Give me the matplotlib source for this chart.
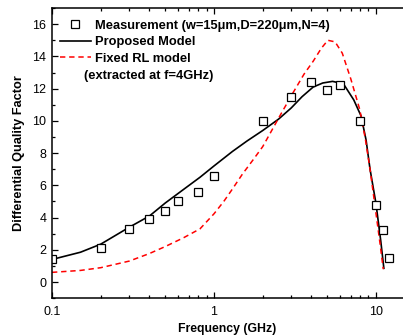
import numpy as np
import matplotlib
matplotlib.use('Agg')
import matplotlib.pyplot as plt
from matplotlib.ticker import MultipleLocator, FixedLocator, NullFormatter

plt.rcParams['font.family'] = ['Liberation Sans', 'DejaVu Sans']

# measured differential Q
meas_f = [0.1, 0.2, 0.3, 0.4, 0.5, 0.6, 0.8, 1.0, 2.0, 3.0, 4.0, 5.0, 6.0, 8.0, 10.0, 11.0, 12.0]
meas_q = [1.4, 2.1, 3.3, 3.9, 4.4, 5.0, 5.6, 6.6, 10.0, 11.5, 12.4, 11.9, 12.2, 10.0, 4.8, 3.2, 1.5]

# proposed model
model_f = [0.1, 0.15, 0.2, 0.3, 0.4, 0.5, 0.65, 0.82, 1.0, 1.3, 1.6, 2.0, 2.5, 3.0, 3.5, 4.1, 4.7, 5.4, 6.3, 7.3, 8.1, 8.7, 9.2, 10.0, 10.7, 11.2]
model_q = [1.4, 1.85, 2.35, 3.4, 4.1, 4.9, 5.75, 6.5, 7.2, 8.1, 8.75, 9.4, 10.1, 10.8, 11.5, 12.1, 12.35, 12.45, 12.3, 11.3, 10.3, 8.8, 7.0, 4.9, 2.6, 0.85]

# fixed RL model (extracted at 4 GHz)
rl_f = [0.1, 0.15, 0.2, 0.3, 0.4, 0.5, 0.65, 0.82, 1.0, 1.15, 1.3, 1.5, 1.75, 2.0, 2.55, 3.06, 3.6, 4.1, 4.6, 5.05, 5.6, 6.2, 7.0, 7.95, 8.6, 9.2, 10.0, 10.6, 11.1]
rl_q = [0.6, 0.72, 0.89, 1.3, 1.77, 2.2, 2.75, 3.3, 4.23, 5.0, 5.77, 6.7, 7.6, 8.4, 10.3, 11.7, 12.9, 13.7, 14.5, 15.0, 14.9, 14.2, 12.6, 10.7, 8.9, 7.0, 4.3, 2.4, 0.8]

fig = plt.figure(figsize=(4.03, 3.35), dpi=100)
ax = fig.add_axes([0.129, 0.110, 0.871, 0.866])

ax.plot(model_f, model_q, color='black', lw=1.2, label='Proposed Model')
ax.plot(rl_f, rl_q, color='red', lw=1.1, ls=(0, (3.5, 2.5)), label='Fixed RL model')
ax.plot(meas_f, meas_q, ls='none', marker='s', ms=5.5, mfc='white', mec='black', mew=0.9,
        label='Measurement (w=15\u03bcm,D=220\u03bcm,N=4)')

ax.set_xscale('log')
ax.set_xlim(0.1, 14.7)
ax.set_ylim(-1, 17)
ax.yaxis.set_major_locator(FixedLocator([0, 2, 4, 6, 8, 10, 12, 14, 16]))
ax.yaxis.set_minor_locator(MultipleLocator(1))
ax.set_xticks([0.1, 1, 10])
ax.set_xticklabels(['0.1', '1', '10'])
ax.xaxis.set_minor_formatter(NullFormatter())

ax.tick_params(which='both', direction='in', top=True, right=False, labelsize=9, width=0.9, pad=4)
ax.tick_params(axis='x', pad=6)
ax.tick_params(which='major', length=4.5)
ax.tick_params(which='minor', length=2.5)
ax.spines['right'].set_visible(False)
for s in ['left', 'top', 'bottom']:
    ax.spines[s].set_linewidth(1.1)

ax.set_xlabel('Frequency (GHz)', fontsize=8.8, fontweight='bold', labelpad=3)
ax.set_ylabel('Differential Quality Factor', fontsize=9.2, fontweight='bold', labelpad=5)

h, l = ax.get_legend_handles_labels()
leg = ax.legend([h[2], h[0], h[1]], [l[2], l[0], l[1]], loc='upper left', frameon=False,
                bbox_to_anchor=(0, 0.986),
                prop={'weight': 'bold', 'size': 9.3}, handlelength=2.4, handletextpad=0.35,
                labelspacing=0.33, borderaxespad=0.3, borderpad=0.3, numpoints=1)
ax.text(0.09, 0.767, '(extracted at f=4GHz)', transform=ax.transAxes, fontsize=9.3,
        fontweight='bold', va='center', ha='left')

fig.savefig('out.png', dpi=100)
